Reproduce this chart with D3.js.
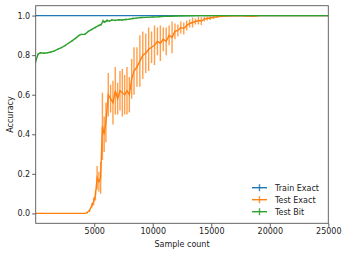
<!DOCTYPE html>
<html><head><meta charset="utf-8">
<script src="https://cdn.jsdelivr.net/npm/d3@7"></script>
<style>body{margin:0;background:#fff}svg{display:block}text{font-family:"DejaVu Sans",sans-serif}</style>
</head><body><svg id="c" width="347" height="254"></svg>
<script>
const seriesNames = ["Train Exact", "Test Exact", "Test Bit"];
const colors = ["#1f77b4", "#ff7f0e", "#2ca02c"];
const xTicks = [5000, 10000, 15000, 20000, 25000];
const yTicks = [0.0, 0.2, 0.4, 0.6, 0.8, 1.0];

const trainX = [0, 5000, 10000, 15000, 20000, 25000];
const trainY = [1, 1, 1, 1, 1, 1];
const trainE = [0, 0, 0, 0, 0, 0];

const testExactX = [0,1000,2000,3000,4000,4200,4400,4600,4800,4950,5100,5250,5400,5550,5700,5850,6000,6200,6400,6600,6800,7000,7200,7400,7600,7800,8000,8200,8400,8650,8900,9150,9400,9650,9900,10150,10400,10650,10900,11150,11400,11650,11900,12150,12400,12650,12900,13150,13400,13650,13900,14150,14400,14650,14900,15200,15500,15900,16400,16900,17400,18000,18600,19200,22000,25000];
const testExactY = [0,0,0,0,0,0,0.004,0.015,0.04,0.06,0.09,0.18,0.16,0.18,0.44,0.40,0.46,0.60,0.58,0.56,0.62,0.58,0.62,0.61,0.60,0.62,0.60,0.68,0.72,0.74,0.77,0.80,0.81,0.83,0.84,0.85,0.87,0.86,0.88,0.87,0.90,0.89,0.92,0.925,0.94,0.935,0.95,0.96,0.965,0.97,0.975,0.972,0.982,0.985,0.988,0.991,0.994,0.996,0.998,0.999,1,0.998,0.997,1,1,1];
const testExactE = [0,0,0,0,0,0,0.003,0.008,0.012,0.02,0.025,0.06,0.05,0.08,0.17,0.09,0.10,0.11,0.07,0.11,0.12,0.08,0.10,0.12,0.10,0.12,0.09,0.10,0.12,0.10,0.13,0.12,0.10,0.11,0.08,0.10,0.07,0.09,0.06,0.07,0.05,0.08,0.04,0.03,0.03,0.03,0.025,0.02,0.025,0.015,0.02,0.02,0.012,0.01,0.01,0.008,0.006,0.004,0.003,0.002,0,0.003,0.004,0,0,0];

const testBitX = [0,200,400,700,1000,1300,1600,1900,2200,2500,2800,3100,3400,3700,3900,4200,4500,4800,5100,5400,5600,5750,5900,6100,6300,6500,6800,7100,7400,7700,8000,8300,8600,9000,9500,10000,10500,11000,11500,12000,13000,14000,16000,18000,20000,22000,25000];
const testBitY = [0.77,0.805,0.812,0.81,0.812,0.816,0.822,0.83,0.838,0.848,0.86,0.872,0.885,0.9,0.905,0.905,0.92,0.93,0.94,0.95,0.955,0.972,0.968,0.975,0.972,0.978,0.976,0.979,0.978,0.98,0.982,0.985,0.987,0.99,0.991,0.993,0.994,0.996,0.997,0.998,0.999,1,1,1,1,1,1];
const testBitE = [0.01,0.005,0.004,0.003,0.003,0.003,0.003,0.003,0.003,0.003,0.003,0.003,0.003,0.003,0.003,0.003,0.003,0.004,0.004,0.004,0.005,0.008,0.006,0.006,0.005,0.005,0.004,0.004,0.004,0.004,0.004,0.004,0.003,0.003,0.003,0.003,0.003,0.002,0.002,0.002,0.001,0,0,0,0,0,0];

const series = [
  {name: seriesNames[0], xs: trainX, ys: trainY, es: trainE, color: colors[0]},
  {name: seriesNames[1], xs: testExactX, ys: testExactY, es: testExactE, color: colors[1]},
  {name: seriesNames[2], xs: testBitX, ys: testBitY, es: testBitE, color: colors[2]}
];

const svg = d3.select("#c");
const L = 35.7, R = 328.3, T = 5.7, B = 223.3;
const x = d3.scaleLinear().domain([0, 25000]).range([L, R]);
const y = d3.scaleLinear().domain([-0.05, 1.05]).range([B, T]);

svg.append("clipPath").attr("id","cp").append("rect").attr("x",L).attr("y",T).attr("width",R-L).attr("height",B-T);
const plot = svg.append("g").attr("clip-path","url(#cp)");

series.forEach(s => {
  const pts = s.xs.map((v,i)=>({x:v,y:s.ys[i],e:s.es[i]}));
  plot.append("g").selectAll("line").data(pts.filter(p=>p.e>0)).join("line")
    .attr("x1",d=>x(d.x)).attr("x2",d=>x(d.x))
    .attr("y1",d=>y(d.y-d.e)).attr("y2",d=>y(d.y+d.e))
    .attr("stroke",s.color).attr("stroke-width",1.4).attr("stroke-opacity",0.75);
  plot.append("path").datum(pts)
    .attr("d", d3.line().x(d=>x(d.x)).y(d=>y(d.y)))
    .attr("fill","none").attr("stroke",s.color).attr("stroke-width",1.4);
});

// axes
const xAxis = svg.append("g").attr("transform",`translate(0,${B})`)
  .call(d3.axisBottom(x).tickValues(xTicks).tickSize(3.5).tickPadding(2).tickFormat(d3.format("d")));
const yAxis = svg.append("g").attr("transform",`translate(${L},0)`)
  .call(d3.axisLeft(y).tickValues(yTicks).tickSize(3.5).tickPadding(2).tickFormat(d3.format(".1f")));
[xAxis,yAxis].forEach(a=>{
  a.select(".domain").remove();
  a.selectAll(".tick line").attr("stroke","#333").attr("stroke-width",0.8);
  a.selectAll(".tick text").attr("fill","#222").style("font-size","8px").style("font-family","DejaVu Sans");
});
svg.append("rect").attr("x",L).attr("y",T).attr("width",R-L).attr("height",B-T)
  .attr("fill","none").attr("stroke","#555").attr("stroke-width",0.9);

svg.append("text").attr("x",(L+R)/2).attr("y",246.5).attr("text-anchor","middle")
  .style("font-size","8px").attr("fill","#222").text("Sample count");
svg.append("text").attr("transform",`translate(12.5,${(T+B)/2}) rotate(-90)`).attr("text-anchor","middle")
  .style("font-size","8px").attr("fill","#222").text("Accuracy");

// legend
const lg = svg.append("g");
series.forEach((s,i)=>{
  const cy = 187.7 + i*12;
  lg.append("line").attr("x1",252).attr("x2",267).attr("y1",cy).attr("y2",cy).attr("stroke",s.color).attr("stroke-width",1.4);
  lg.append("line").attr("x1",259.5).attr("x2",259.5).attr("y1",cy-3.5).attr("y2",cy+3.5).attr("stroke",s.color).attr("stroke-width",1.4).attr("stroke-opacity",0.85);
  lg.append("text").attr("x",275).attr("y",cy+2.9).style("font-size","8px").attr("fill","#222").text(s.name);
});
</script></body></html>
